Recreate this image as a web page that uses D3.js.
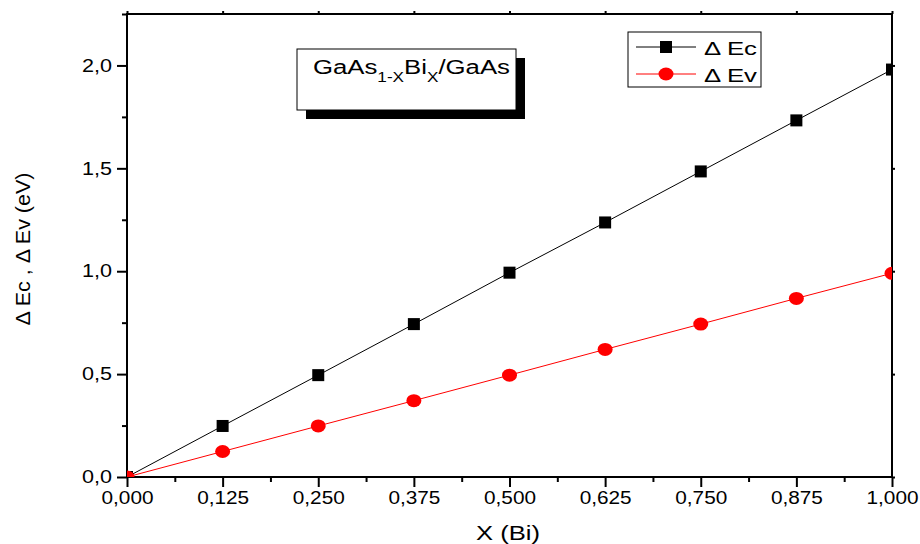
<!DOCTYPE html>
<html>
<head>
<meta charset="utf-8">
<script src="https://cdn.jsdelivr.net/npm/d3@7"></script>
<style>
  body { margin: 0; background: #fff; }
  text { font-family: "Liberation Sans", Arial, sans-serif; }
</style>
</head>
<body>
<div id="chart"></div>
<script>
// data
const xValues = [0, 0.125, 0.25, 0.375, 0.5, 0.625, 0.75, 0.875, 1.0];
const deltaEc = [0, 0.248, 0.495, 0.743, 0.993, 1.237, 1.485, 1.733, 1.98];
const deltaEv = [0, 0.124, 0.248, 0.371, 0.495, 0.62, 0.743, 0.868, 0.99];
const xTicks = [0, 0.125, 0.25, 0.375, 0.5, 0.625, 0.75, 0.875, 1.0];
const yTicks = [0, 0.5, 1.0, 1.5, 2.0];

const W = 920, H = 544;
const margin = { top: 14, right: 28, bottom: 67, left: 127 },
  width = W - margin.left - margin.right,
  height = H - margin.top - margin.bottom;

const svg = d3.select('#chart').append('svg')
  .attr('width', W).attr('height', H);

const x = d3.scaleLinear().domain([0, 1]).range([0, width]);
const y = d3.scaleLinear().domain([0, 2.25]).range([height, 0]);

const g = svg.append('g').attr('transform', `translate(${margin.left} ${margin.top})`);

const fmtX = v => d3.format('.3f')(v).replace('.', ',');
const fmtY = v => d3.format('.1f')(v).replace('.', ',');

// minor ticks
const xMinor = d3.range(0, 17).map(i => i / 16).filter(v => !xTicks.includes(v));
const yMinor = [0.25, 0.75, 1.25, 1.75, 2.25];

// bottom axis
g.append('g').attr('class', 'xaxis').attr('transform', `translate(0 ${height})`)
  .call(d3.axisBottom(x).tickValues(xTicks).tickFormat(fmtX).tickSize(10).tickPadding(4));
g.append('g').attr('transform', `translate(0 ${height})`)
  .call(d3.axisBottom(x).tickValues(xMinor).tickFormat('').tickSize(5));

// left axis
g.append('g').attr('class', 'yaxis')
  .call(d3.axisLeft(y).tickValues(yTicks).tickFormat(fmtY).tickSize(10).tickPadding(5));
g.append('g')
  .call(d3.axisLeft(y).tickValues(yMinor).tickFormat('').tickSize(5));

// top and right axes, ticks only
g.append('g').call(d3.axisTop(x).tickValues(xTicks).tickFormat('').tickSize(3));
g.append('g').attr('transform', `translate(${width} 0)`)
  .call(d3.axisRight(y).tickValues(yTicks).tickFormat('').tickSize(3));

g.selectAll('.domain').attr('stroke', 'none');
g.selectAll('.tick line').attr('stroke', '#000').attr('stroke-width', 2);
g.selectAll('.tick text').attr('font-size', 18).attr('fill', '#000')
  .attr('font-family', '"Liberation Sans", Arial, sans-serif')
  .attr('lengthAdjust', 'spacingAndGlyphs');
// the original lettering is a little wider than Liberation Sans
g.selectAll('.xaxis .tick text').attr('textLength', 52);
g.selectAll('.yaxis .tick text').attr('textLength', 30);

// frame
g.append('rect')
  .attr('width', width).attr('height', height)
  .attr('fill', 'none').attr('stroke', '#000').attr('stroke-width', 2);

// series
g.append('clipPath').attr('id', 'clip')
  .append('rect').attr('width', width).attr('height', height);

const series = [
  { name: 'Ec', values: deltaEc, color: '#000', shape: 'square' },
  { name: 'Ev', values: deltaEv, color: '#ff0000', shape: 'circle' }
];

const line = d3.line().x(d => x(d[0])).y(d => y(d[1]));

const plot = g.append('g').attr('clip-path', 'url(#clip)');

series.forEach(s => {
  const pts = xValues.map((v, i) => [v, s.values[i]]);
  plot.append('path')
    .attr('d', line(pts))
    .attr('fill', 'none')
    .attr('stroke', s.color)
    .attr('stroke-width', 1);
  if (s.shape === 'square') {
    plot.selectAll(null).data(pts).enter().append('rect')
      .attr('x', d => x(d[0]) - 6).attr('y', d => y(d[1]) - 6)
      .attr('width', 12).attr('height', 12)
      .attr('fill', s.color);
  } else {
    plot.selectAll(null).data(pts).enter().append('ellipse')
      .attr('cx', d => x(d[0])).attr('cy', d => y(d[1]))
      .attr('rx', 7.5).attr('ry', 6.5)
      .attr('fill', s.color);
  }
});

// axis titles
svg.append('text')
  .attr('x', 508).attr('y', 540)
  .attr('text-anchor', 'middle').attr('font-size', 21)
  .attr('textLength', 64).attr('lengthAdjust', 'spacingAndGlyphs')
  .text('X (Bi)');

svg.append('text')
  .attr('transform', 'translate(30 249) rotate(-90)')
  .attr('text-anchor', 'middle').attr('font-size', 20)
  .attr('textLength', 153).attr('lengthAdjust', 'spacingAndGlyphs')
  .text('\u0394 Ec , \u0394 Ev  (eV)');

// title box with shadow
svg.append('rect').attr('x', 306).attr('y', 58).attr('width', 219).attr('height', 61).attr('fill', '#000');
svg.append('rect').attr('x', 297).attr('y', 49).attr('width', 219).attr('height', 61)
  .attr('fill', '#fff').attr('stroke', '#000').attr('stroke-width', 1);
const titleG = svg.append('g');
const title = titleG.append('text').attr('x', 0).attr('y', 0).attr('font-size', 21);
title.append('tspan').text('GaAs');
title.append('tspan').attr('font-size', 14).attr('dy', 8).text('1-X');
title.append('tspan').attr('dy', -8).text('Bi');
title.append('tspan').attr('font-size', 14).attr('dy', 8).text('X');
title.append('tspan').attr('dy', -8).text('/GaAs');
const tw = title.node().getBBox().width;
titleG.attr('transform', `translate(313 74) scale(${197 / tw} 1)`);

// legend
const legend = svg.append('g');
legend.append('rect').attr('x', 628).attr('y', 32).attr('width', 133).attr('height', 55)
  .attr('fill', '#fff').attr('stroke', '#000').attr('stroke-width', 1);
series.forEach((s, i) => {
  const ly = 47 + i * 27;
  legend.append('line').attr('x1', 636).attr('x2', 696).attr('y1', ly).attr('y2', ly)
    .attr('stroke', s.color).attr('stroke-width', 1);
  if (s.shape === 'square') {
    legend.append('rect').attr('x', 660).attr('y', ly - 6).attr('width', 12).attr('height', 12).attr('fill', s.color);
  } else {
    legend.append('ellipse').attr('cx', 666).attr('cy', ly).attr('rx', 7.5).attr('ry', 6.5).attr('fill', s.color);
  }
  legend.append('text').attr('x', 704).attr('y', ly + 8).attr('font-size', 19)
    .attr('textLength', 53).attr('lengthAdjust', 'spacingAndGlyphs')
    .text('\u0394 ' + s.name);
});
</script>
</body>
</html>
